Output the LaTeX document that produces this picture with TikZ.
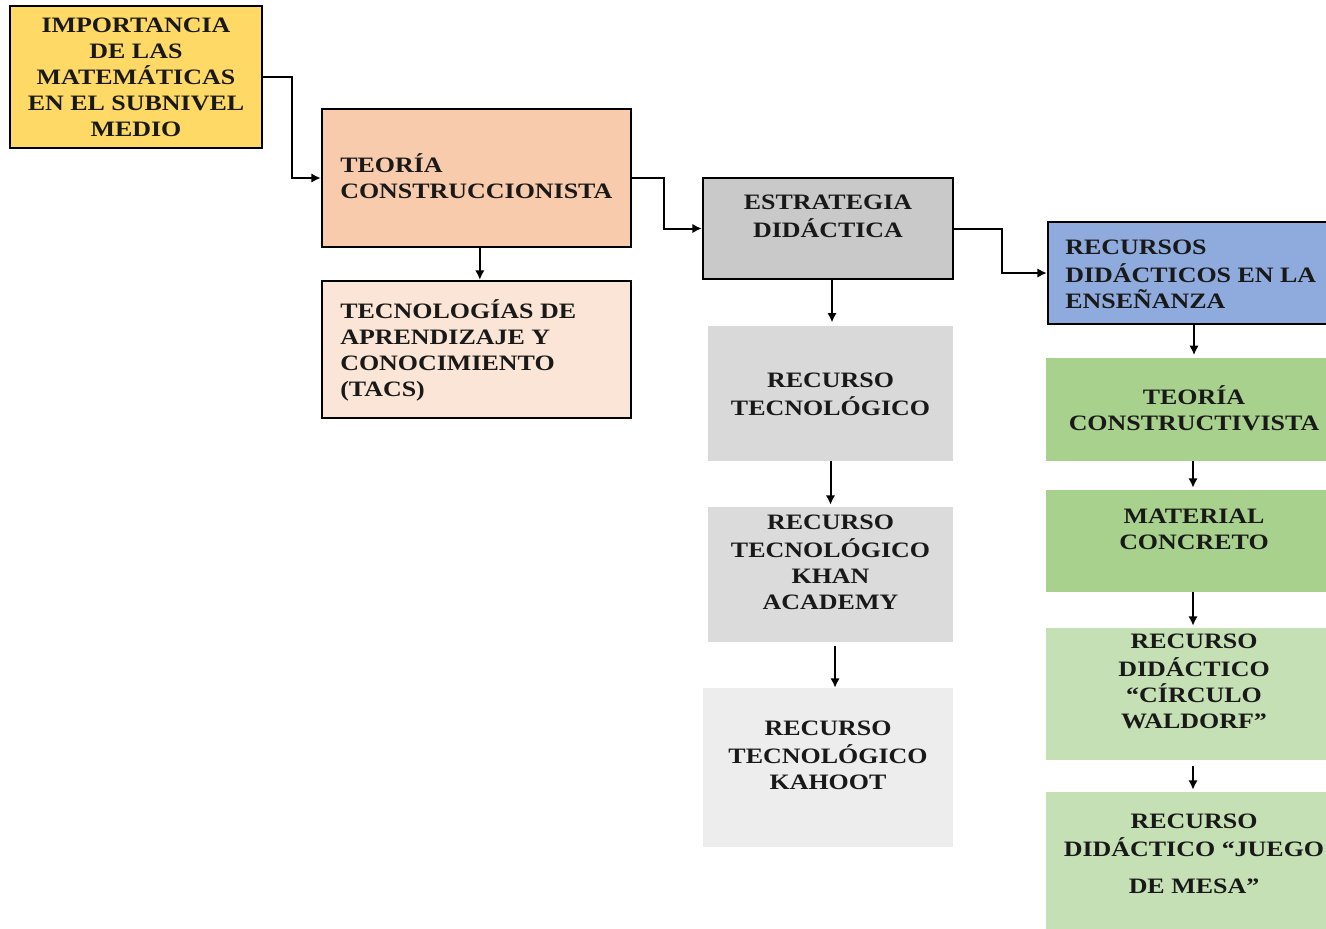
\documentclass[tikz,border=0pt]{standalone}
\usepackage{fontspec}
\setmainfont{Liberation Serif}[FakeStretch=1.18]
\usetikzlibrary{arrows.meta,fit}
\definecolor{cgold}{HTML}{FFD966}
\definecolor{corange}{HTML}{F8CBAD}
\definecolor{cpeach}{HTML}{FBE5D6}
\definecolor{cgrayA}{HTML}{C9C9C9}
\definecolor{cblue}{HTML}{8FAADC}
\definecolor{cgrayB}{HTML}{D9D9D9}
\definecolor{cgrayC}{HTML}{DBDBDB}
\definecolor{cgrayD}{HTML}{EDEDED}
\definecolor{cgreenA}{HTML}{A9D18E}
\definecolor{cgreenB}{HTML}{C5E0B4}
\tikzset{
  boxline/.style={draw=black, line width=1.8pt, inner sep=0pt},
  boxplain/.style={draw=none, inner sep=0pt},
  txt/.style={inner sep=0pt, text=black!90, font=\bfseries\fontsize{16.5}{19.5}\selectfont},
  txtc/.style={txt, align=center},
  txtl/.style={txt, align=left, anchor=west},
  conn/.style={line width=1.5pt, -{Latex[length=7pt,width=7pt]}}
}
\begin{document}
\begin{tikzpicture}[x=0.75pt,y=-0.75pt]
\useasboundingbox (0,0) rectangle (1326,928);
% boxes
\node[boxline, fill=cgold,   fit={(10,6) (262,148)}] (b1) {};
\node[boxline, fill=corange, fit={(322,109) (631,247)}] (b2) {};
\node[boxline, fill=cpeach,  fit={(322,281) (631,418)}] (b3) {};
\node[boxline, fill=cgrayA,  fit={(703,178) (953,279)}] (b4) {};
\node[boxline, fill=cblue,   fit={(1048,222) (1340,324)}] (b5) {};
\node[boxplain, fill=cgrayB, fit={(708,326) (953,461)}] (b6) {};
\node[boxplain, fill=cgrayC, fit={(708,507) (953,642)}] (b7) {};
\node[boxplain, fill=cgrayD, fit={(703,688) (953,847)}] (b8) {};
\node[boxplain, fill=cgreenA, fit={(1046,358) (1342,461)}] (b9) {};
\node[boxplain, fill=cgreenA, fit={(1046,490) (1342,592)}] (b10) {};
\node[boxplain, fill=cgreenB, fit={(1046,628) (1342,760)}] (b11) {};
\node[boxplain, fill=cgreenB, fit={(1046,792) (1342,940)}] (b12) {};
% texts
\node[txtc] (t1) at (136,79) {\strut IMPORTANCIA\\DE LAS\\MATEMÁTICAS\\EN EL SUBNIVEL\\MEDIO\strut};
\node[txtl] (t2) at (340,180) {\strut TEORÍA\\CONSTRUCCIONISTA\strut};
\node[txtl] (t3) at (340,352) {\strut TECNOLOGÍAS DE\\APRENDIZAJE Y\\CONOCIMIENTO\\(TACS)\strut};
\node[txtc] (t4) at (828,218.5) {\strut ESTRATEGIA\\DIDÁCTICA\strut};
\node[txtl] (t5) at (1065,276) {\strut RECURSOS\\DIDÁCTICOS EN LA\\ENSEÑANZA\strut};
\node[txtc] (t6) at (830.5,396) {\strut RECURSO\\TECNOLÓGICO\strut};
\node[txtc] (t7) at (830.5,564.5) {\strut RECURSO\\TECNOLÓGICO\\KHAN\\ACADEMY\strut};
\node[txtc] (t8) at (828,757.5) {\strut RECURSO\\TECNOLÓGICO\\KAHOOT\strut};
\node[txtc] (t9) at (1194,411.5) {\strut TEORÍA\\CONSTRUCTIVISTA\strut};
\node[txtc] (t10) at (1194,531.5) {\strut MATERIAL\\CONCRETO\strut};
\node[txtc] (t11) at (1194,683.5) {\strut RECURSO\\DIDÁCTICO\\“CÍRCULO\\WALDORF”\strut};
\node[txtc] (t12) at (1194,855.5) {\strut RECURSO\\DIDÁCTICO “JUEGO\\[8pt]DE MESA”\strut};
% connectors
\draw[conn] (b1.east) -- ++(29,0) |- (b2.west);
\draw[conn] (b2.east) -- ++(32,0) |- (b4.west);
\draw[conn] (b4.east) -- ++(48,0) |- (b5.west);
\draw[conn] ([xshift=2.5pt]b2.south) -- ([xshift=2.5pt]b2.south |- b3.north);
\draw[conn] ([xshift=3pt]b4.south) -- ([xshift=3pt,yshift=2.5pt]b4.south |- b6.north);
\draw[conn] (b6.south) -- ([yshift=1.5pt]b6.south |- b7.north);
\draw[conn] ([xshift=3.4pt,yshift=-2.5pt]b7.south) -- ([xshift=3.4pt]b7.south |- b8.north);
\draw[conn] (b5.south) -- ([yshift=2pt]b5.south |- b9.north);
\draw[conn] ([xshift=-0.75pt]b9.south) -- ([xshift=-0.75pt,yshift=1.5pt]b9.south |- b10.north);
\draw[conn] ([xshift=-0.75pt]b10.south) -- ([xshift=-0.75pt,yshift=1.5pt]b10.south |- b11.north);
\draw[conn] ([xshift=-0.75pt,yshift=-4.5pt]b11.south) -- ([xshift=-0.75pt,yshift=1.5pt]b11.south |- b12.north);
\end{tikzpicture}
\end{document}
